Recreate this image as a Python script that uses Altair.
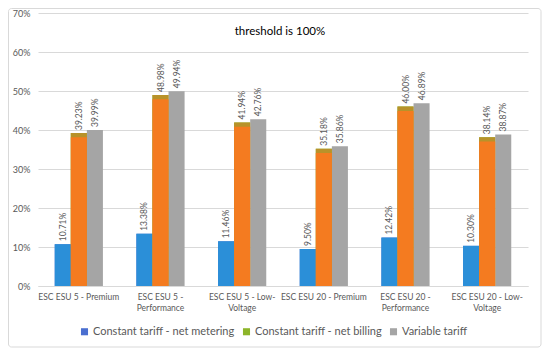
import altair as alt
import pandas as pd
import json

categories = ["ESC ESU 5 - Premium", "ESC ESU 5 - Performance", "ESC ESU 5 - Low-Voltage",
              "ESC ESU 20 - Premium", "ESC ESU 20 - Performance", "ESC ESU 20 - Low-Voltage"]
series_names = ["Constant tariff - net metering", "Constant tariff - net billing", "Variable tariff"]
net_metering = [10.71, 13.38, 11.46, 9.50, 12.42, 10.30]
net_billing = [39.23, 48.98, 41.94, 35.18, 46.00, 38.14]
variable = [39.99, 49.94, 42.76, 35.86, 46.89, 38.87]
y_ticks = [0, 10, 20, 30, 40, 50, 60, 70]

label_lines = {
    "ESC ESU 5 - Performance": ["ESC ESU 5 -", "Performance"],
    "ESC ESU 5 - Low-Voltage": ["ESC ESU 5 - Low-", "Voltage"],
    "ESC ESU 20 - Performance": ["ESC ESU 20 -", "Performance"],
    "ESC ESU 20 - Low-Voltage": ["ESC ESU 20 - Low-", "Voltage"],
}

rows = []
for s, vals in zip(series_names, [net_metering, net_billing, variable]):
    for c, v in zip(categories, vals):
        rows.append({"category": c, "series": s, "value": v / 100})
df = pd.DataFrame(rows)

legend_colors = ["#4a6fd0", "#8db52a", "#a5a5a5"]
BLUE_BAR = "#2b8fd8"
OLIVE = "#b8922a"
ORANGE = "#f47b20"
FONT = "Lato"
GRAY_TXT = "#595959"

label_expr = "datum.label"
for k, v in label_lines.items():
    label_expr = f"datum.label == '{k}' ? {json.dumps(v)} : " + label_expr

x_axis = alt.Axis(title=None, labelAngle=0, labelExpr=label_expr, ticks=False,
                  domainColor="#d9d9d9", labelColor=GRAY_TXT, labelFont=FONT,
                  labelFontSize=8.5, labelPadding=6, labelLineHeight=11,
                  labelBaseline="top")
x_scale = alt.Scale(paddingInner=0.41, paddingOuter=0.205)
xo_scale = alt.Scale(domain=series_names, paddingInner=0, paddingOuter=0)
y_axis = alt.Axis(title=None, format=".0%", values=[t / 100 for t in y_ticks],
                  domain=False, ticks=False, gridColor="#d9d9d9",
                  labelColor=GRAY_TXT, labelFont=FONT, labelFontSize=9,
                  labelPadding=8)
y_scale = alt.Scale(domain=[0, 0.7], nice=False)


def X():
    return alt.X("category:N", sort=categories, scale=x_scale, axis=x_axis)


def XO():
    return alt.XOffset("series:N", scale=xo_scale)


def Y(field):
    return alt.Y(field, scale=y_scale, axis=y_axis)


base = alt.Chart(df)

bars = base.mark_bar().encode(
    x=X(), xOffset=XO(), y=Y("value:Q"),
    color=alt.Color("series:N", scale=alt.Scale(domain=series_names, range=legend_colors),
                    legend=alt.Legend(orient="none", legendX=41, legendY=313,
                                      direction="horizontal", title=None,
                                      symbolType="square", symbolSize=50,
                                      symbolStrokeWidth=0, labelOffset=3,
                                      labelFont=FONT, labelFontSize=11,
                                      labelColor=GRAY_TXT, columnPadding=6,
                                      labelLimit=300)),
)

blue_bars = base.transform_filter(
    alt.datum.series == "Constant tariff - net metering"
).mark_bar(color=BLUE_BAR).encode(x=X(), xOffset=XO(), y=Y("value:Q"))

olive_bars = base.transform_filter(
    alt.datum.series == "Constant tariff - net billing"
).mark_bar(color=OLIVE).encode(x=X(), xOffset=XO(), y=Y("value:Q"))

orange = base.transform_filter(
    alt.datum.series == "Constant tariff - net billing"
).transform_calculate(
    top="datum.value - 0.011"
).mark_bar(color=ORANGE).encode(x=X(), xOffset=XO(), y=Y("top:Q"))

labels = base.mark_text(angle=270, align="left", baseline="middle", dx=3,
                        font=FONT, fontSize=8.5, color=GRAY_TXT).encode(
    x=X(), xOffset=XO(), y=Y("value:Q"),
    text=alt.Text("value:Q", format=".2%"),
)

one = alt.Data(values=[{"a": 1}])
border = alt.Chart(one).mark_rect(filled=False, stroke="#d9d9d9", strokeWidth=1,
                                  cornerRadius=3, clip=False).encode(
    x=alt.value(-29.5), x2=alt.value(503), y=alt.value(-4.5), y2=alt.value(334)
)
title = alt.Chart(one).mark_text(font=FONT, fontSize=11.5, color="#000000",
                                 align="center", baseline="middle").encode(
    x=alt.value(242), y=alt.value(19), text=alt.value("threshold is 100%")
)

chart = alt.layer(border, bars, blue_bars, olive_bars, orange, labels, title).properties(
    width=490, height=273,
    autosize=alt.AutoSizeParams(type="none"),
    padding={"left": 30, "top": 5, "right": 14, "bottom": 62},
).configure_view(stroke=None)

chart.save("out.html", embed_options={"renderer": "svg", "actions": False})
